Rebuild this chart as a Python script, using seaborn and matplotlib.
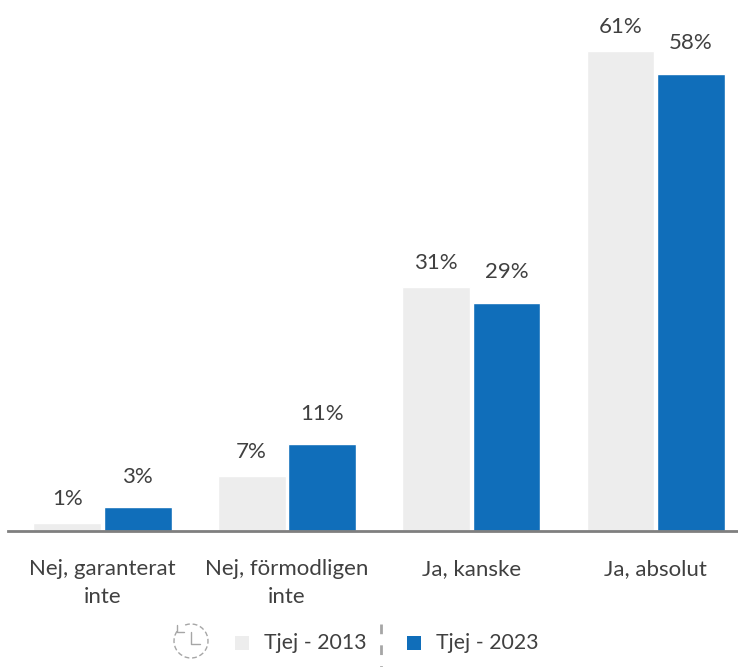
import matplotlib
matplotlib.use("Agg")
import matplotlib.pyplot as plt
from matplotlib.patches import Rectangle, Arc
import numpy as np
import pandas as pd
import seaborn as sns

categories = ["Nej, garanterat\ninte", "Nej, förmodligen\ninte", "Ja, kanske", "Ja, absolut"]
tjej_2013 = [1, 7, 31, 61]
tjej_2023 = [3, 11, 29, 58]
labels_2013 = ["1%", "7%", "31%", "61%"]
labels_2023 = ["3%", "11%", "29%", "58%"]
series_names = ["Tjej - 2013", "Tjej - 2023"]
colors = ["#EDEDED", "#106EBA"]

sns.set_theme(style="white")
plt.rcParams['font.family'] = ['Lato', 'DejaVu Sans']

df = pd.DataFrame({
    "kategori": categories * 2,
    "andel": tjej_2013 + tjej_2023,
    "serie": [series_names[0]] * 4 + [series_names[1]] * 4,
})

fig = plt.figure(figsize=(7.38, 6.67), dpi=100)
ax = fig.add_axes([8 / 738, 1 - 531 / 667, 730 / 738, 500 / 667])
sns.barplot(data=df, x="kategori", y="andel", hue="serie", palette=colors,
            width=0.765, gap=0.04, saturation=1, legend=False, ax=ax)

ax.set_ylim(0, 63.5)
ax.set_xlim(-0.5125, 3.446)
ax.set_xlabel("")
ax.set_ylabel("")
ax.set_yticks([])
for s in ["top", "left", "right"]:
    ax.spines[s].set_visible(False)
ax.spines["bottom"].set_color("#7F7F7F")
ax.spines["bottom"].set_linewidth(2)
ax.tick_params(axis="x", length=0, pad=20.5, labelsize=16, labelcolor="#404040")
for t in ax.get_xticklabels():
    t.set_linespacing(1.45)

# värdeetiketter, 2023 sitter lite högre
for cont, lab, pad in zip(ax.containers, [labels_2013, labels_2023], [10, 15]):
    ax.bar_label(cont, labels=lab, padding=pad, fontsize=16, color="#404040")

# legend för hand
fig.text(264 / 738, 1 - 643 / 667, series_names[0], fontsize=15.3, color="#404040", va="center")
fig.text(436 / 738, 1 - 643 / 667, series_names[1], fontsize=15.3, color="#404040", va="center")
fig.add_artist(Rectangle((235 / 738, 1 - 650 / 667), 14 / 738, 14 / 667,
                         transform=fig.transFigure, color=colors[0], lw=0))
fig.add_artist(Rectangle((407 / 738, 1 - 650 / 667), 14 / 738, 14 / 667,
                         transform=fig.transFigure, color=colors[1], lw=0))
fig.add_artist(plt.Line2D([381 / 738, 381 / 738], [1 - 624 / 667, 1 - 667 / 667],
                          color="#A6A6A6", lw=2, ls=(0, (3.5, 4))))

# klockikon
cx, cy = 191, 641
fig.add_artist(Arc((cx, 667 - cy), 34, 34, theta1=-215, theta2=115, transform=None,
                   ec="#A6A6A6", lw=1, ls=(0, (3.5, 2))))
fig.add_artist(plt.Line2D([cx / 738, cx / 738, (cx + 9) / 738],
                          [1 - (cy - 9) / 667, 1 - (cy + 3) / 667, 1 - (cy + 3) / 667],
                          color="#A6A6A6", lw=1))
fig.add_artist(plt.Line2D([177 / 738, 177 / 738, 184 / 738],
                          [1 - 625 / 667, 1 - 632 / 667, 1 - 632 / 667],
                          color="#A6A6A6", lw=1))

fig.savefig("out.png", dpi=100)
